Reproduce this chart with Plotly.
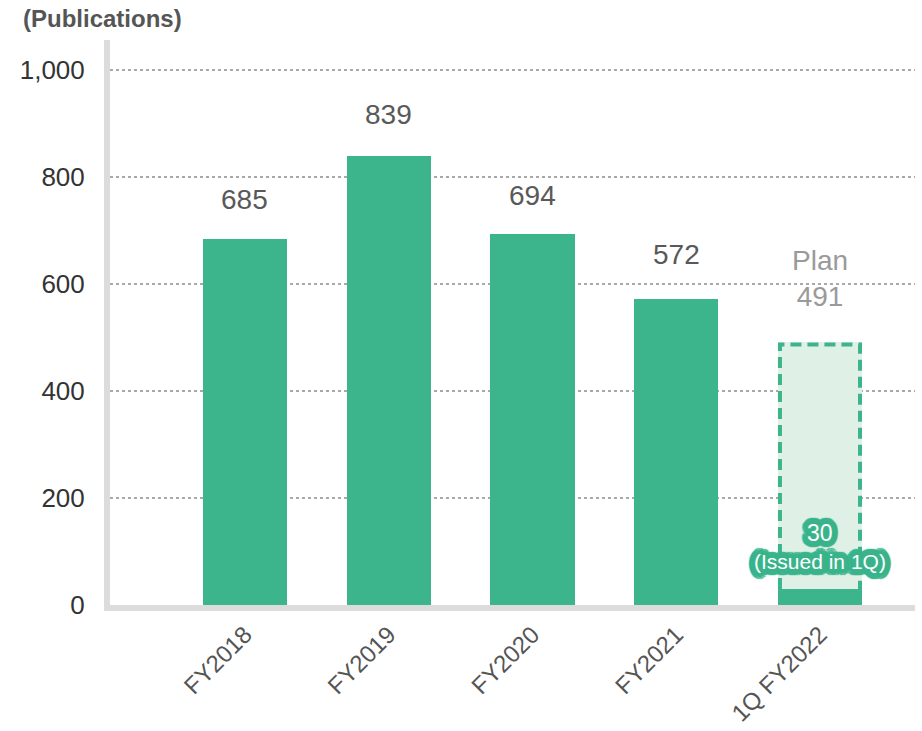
import math
import plotly.graph_objects as go

# ---- data ----
categories = ["FY2018", "FY2019", "FY2020", "FY2021", "1Q FY2022"]
publications = [685, 839, 694, 572, 30]
plan_fy2022 = 491
y_tick_vals = [0, 200, 400, 600, 800, 1000]
y_tick_text = ["0", "200", "400", "600", "800", "1,000"]
value_labels = ["685", "839", "694", "572"]
plan_label = "Plan<br>491"
issued_value_label = "30"
issued_note = "(Issued in 1Q)"
y_title = "(Publications)"

# ---- styles ----
GREEN = "#3cb48c"
LIGHT = "#dff0e6"
FONT = "Liberation Sans, Arial, sans-serif"
BAR_W = 0.585
label_shifts = [22, 24, 21, 27]

xpos = list(range(len(categories)))
plan_idx = len(categories) - 1

fig = go.Figure()

# plan (light filled bar)
fig.add_trace(go.Bar(
    x=[xpos[plan_idx]], y=[plan_fy2022], width=BAR_W,
    marker=dict(color=LIGHT, line=dict(width=0)),
    hoverinfo="skip", showlegend=False,
))

# actual bars
fig.add_trace(go.Bar(
    x=xpos, y=publications, width=BAR_W,
    marker=dict(color=GREEN, line=dict(width=0)),
    showlegend=False,
))

# dashed outline of plan bar (from top of actual to plan value)
inset = 0.014
xl = xpos[plan_idx] - BAR_W / 2 + inset
xr = xpos[plan_idx] + BAR_W / 2 - inset
yb = publications[plan_idx]
yt = plan_fy2022 - 4
fig.add_trace(go.Scatter(
    x=[xl, xl, xr, xr], y=[yb, yt, yt, yb],
    mode="lines", line=dict(color=GREEN, width=4, dash="11px,6px"),
    hoverinfo="skip", showlegend=False,
))

annotations = []
for i, txt in enumerate(value_labels):
    annotations.append(dict(
        x=xpos[i], y=publications[i], xref="x", yref="y",
        text=txt, showarrow=False, yanchor="bottom", yshift=label_shifts[i],
        font=dict(family=FONT, size=28, color="#595959"),
    ))
annotations.append(dict(
    x=xpos[plan_idx], y=plan_fy2022, xref="x", yref="y",
    text=plan_label, showarrow=False, yanchor="bottom", yshift=28,
    font=dict(family=FONT, size=28, color="#9a9a9a"),
))

halo_parts = []
for r in (2, 4, 6):
    n = 8 if r == 2 else 20
    for k in range(n):
        a = 2 * math.pi * k / n
        halo_parts.append(f"{GREEN} {r*math.cos(a):.1f}px {r*math.sin(a):.1f}px 1px")
halo = ", ".join(halo_parts)

annotations.append(dict(
    x=xpos[plan_idx], y=publications[plan_idx], xref="x", yref="y",
    text=issued_value_label, showarrow=False, yanchor="bottom", yshift=41,
    font=dict(family=FONT, size=23, color="white", shadow=halo),
))
annotations.append(dict(
    x=xpos[plan_idx], y=publications[plan_idx], xref="x", yref="y",
    text=issued_note, showarrow=False, yanchor="bottom", yshift=14,
    font=dict(family=FONT, size=21, color="white", shadow=halo),
))
annotations.append(dict(
    x=-(110 - 21) / 805, y=1 + (40 - 19) / 565, xref="paper", yref="paper",
    text="<b>" + y_title + "</b>", showarrow=False,
    xanchor="left", yanchor="middle",
    font=dict(family=FONT, size=24, color="#555555"),
))

fig.update_layout(
    width=922, height=731,
    margin=dict(l=110, r=7, t=40, b=126),
    paper_bgcolor="white", plot_bgcolor="white",
    barmode="overlay", bargap=0,
    font=dict(family=FONT),
    annotations=annotations,
    xaxis=dict(
        range=[-0.939, 4.661], tickmode="array", tickvals=xpos, ticktext=categories,
        tickangle=-45, tickfont=dict(family=FONT, size=24, color="#555555"),
        showgrid=False, zeroline=False, showline=True, linecolor="#dcdcdc", linewidth=6,
        ticks="", automargin=False, fixedrange=True, ticklabelstandoff=0,
    ),
    yaxis=dict(
        range=[0, 1056], tickmode="array", tickvals=y_tick_vals, ticktext=y_tick_text,
        tickfont=dict(family=FONT, size=26, color="#333333"),
        showgrid=True, gridcolor="#a8a8a8", gridwidth=1.5, griddash="dot",
        zeroline=False, showline=True, linecolor="#dcdcdc", linewidth=6,
        ticks="", ticklabelstandoff=14, automargin=False,
    ),
)

fig.write_html("out.html")
